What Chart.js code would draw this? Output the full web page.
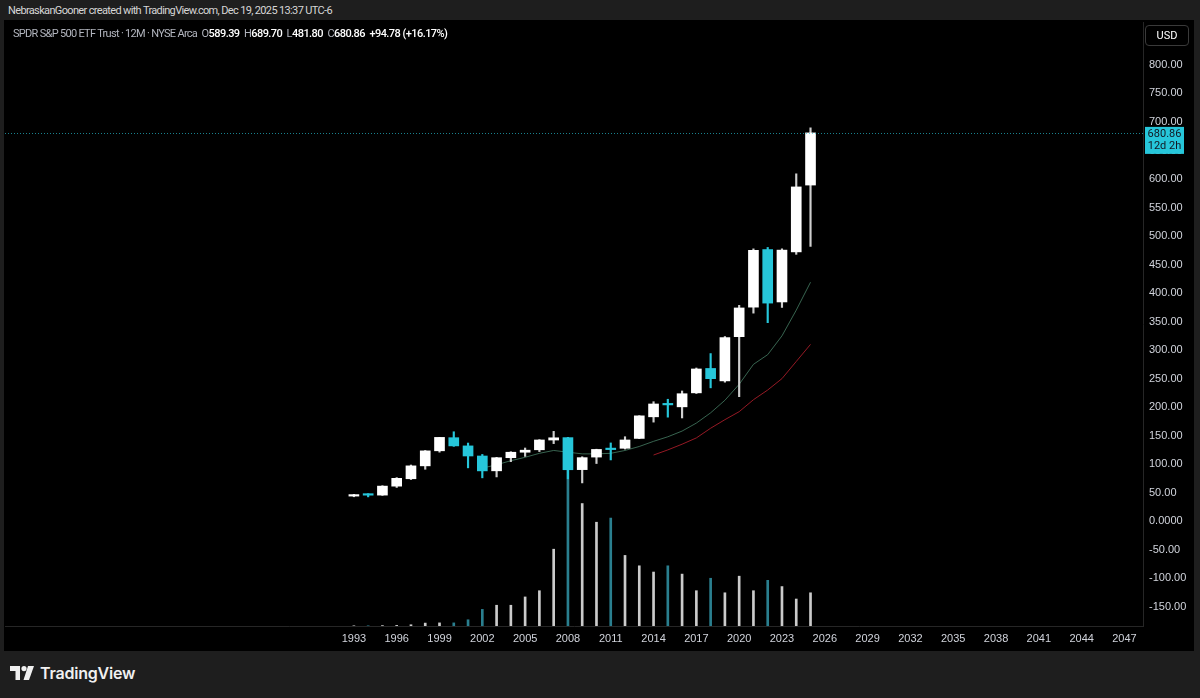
<!DOCTYPE html>
<html lang="en">
<head>
  <meta charset="UTF-8" />
  <title>SPY 12M</title>
  <script src="https://cdn.jsdelivr.net/npm/chart.js"></script>
  <style>
    * { box-sizing: border-box; }
    body {
      margin: 0;
      width: 1200px;
      height: 698px;
      background: #1e1e1e;
      font-family: Roboto, 'Liberation Sans', sans-serif;
      color: #d1d4dc;
      overflow: hidden;
      position: relative;
    }
    .credit {
      position: absolute; left: 8px; top: 4px;
      font-size: 11px; color: #d6d6d6; letter-spacing: -0.65px;
    }
    .panel {
      position: absolute; left: 4px; top: 20px; width: 1190px; height: 631px;
      background: #000;
    }
    #wrap { position: absolute; left: 5px; top: 22px; }
    .legend {
      position: absolute; left: 13px; top: 27px;
      font-size: 11px; color: #b2b5be; letter-spacing: -0.55px;
    }
    .legend .title { letter-spacing: -0.7px; }
    .legend b { font-weight: 500; color: #fff; }
    .usd {
      position: absolute; left: 1145px; top: 25px; width: 44px; height: 21px;
      border: 1px solid #3a3a3a; border-radius: 4px;
      font-size: 11px; color: #fff; text-align: center; line-height: 19px;
    }
    .logo {
      position: absolute; left: 10px; top: 663px;
      display: flex; align-items: center; gap: 6px;
      font-family: Inter, 'Open Sans', sans-serif; font-weight: 600;
      font-size: 16px; color: #f0f0f0; letter-spacing: -0.2px;
    }
  </style>
</head>
<body>
  <div class="credit">NebraskanGooner created with TradingView.com, Dec 19, 2025 13:37 UTC-6</div>
  <div class="panel"></div>
  <div id="wrap"><canvas id="spy" width="1188" height="628"></canvas></div>
  <div class="legend"><span class="title">SPDR S&amp;P 500 ETF Trust · 12M · NYSE Arca</span>&nbsp; O<b>589.39</b>&nbsp; H<b>689.70</b>&nbsp; L<b>481.80</b>&nbsp; C<b>680.86</b>&nbsp; <b>+94.78 (+16.17%)</b></div>
  <div class="usd">USD</div>
  <div class="logo">
    <svg width="24" height="14" viewBox="0 0 24 14">
      <path d="M0 0 H10 V14 H5.5 V5 H0 Z" fill="#f0f0f0"/>
      <circle cx="14" cy="2.6" r="2.6" fill="#f0f0f0"/>
      <path d="M18 0 H24 L19 14 H13.5 Z" fill="#f0f0f0"/>
    </svg>
    <span>TradingView</span>
  </div>

  <script>
    // yearly candles, SPY
    const years  = [1993,1994,1995,1996,1997,1998,1999,2000,2001,2002,2003,2004,2005,2006,2007,2008,2009,2010,2011,2012,2013,2014,2015,2016,2017,2018,2019,2020,2021,2022,2023,2024,2025];
    const opens  = [43.97,46.6,45.7,61.4,74.4,97.0,123.4,146.4,132.0,114.3,88.3,111.3,120.9,125.2,142.3,146.5,90.4,112.4,126.7,127.8,145.1,183.0,206.4,200.5,225.0,267.8,245.98,323.5,375.3,476.3,384.4,472.2,589.39];
    const highs  = [47.1,48.2,62.2,76.4,98.5,124.0,147.0,156.8,137.0,117.0,112.0,121.8,128.3,143.0,157.5,147.0,113.0,126.2,137.2,148.1,185.0,209.5,213.8,228.3,268.6,293.9,323.8,378.5,477.5,479.98,477.6,609.1,689.70];
    const lows   = [42.8,42.6,45.2,59.1,73.0,91.0,121.0,131.2,93.5,76.0,77.6,104.4,113.6,122.0,136.0,74.3,67.1,101.1,107.4,126.4,144.7,173.7,182.4,181.0,223.9,233.8,243.7,218.3,364.8,348.1,374.8,467.9,481.80];
    const closes = [46.59,45.6,61.5,75.1,97.0,123.3,146.9,132.0,114.3,88.2,111.3,120.9,124.5,142.4,146.2,90.2,111.4,125.8,125.5,142.4,184.7,205.5,203.9,223.5,266.9,249.9,321.9,373.9,474.96,382.4,475.3,586.1,680.86];
    // volume, billions of shares
    const volumes = [0.1,0.1,0.2,0.3,0.6,1.4,1.5,1.5,3,8,10,10,14,17,37,75,59,50,52,34,29,26,29,25,17,23,16,24,17,22,19,13,16];

    // moving averages
    const maFastYears = [2002,2003,2004,2005,2006,2007,2008,2009,2010,2011,2012,2013,2014,2015,2016,2017,2018,2019,2020,2021,2022,2023,2024,2025];
    const maFast      = [93,99,106,112,119,124,121,118,118,119,124,131,140,148,158,172,190,212,240,275,292,325,370,419];
    const maSlowYears = [2014,2015,2016,2017,2018,2019,2020,2021,2022,2023,2024,2025];
    const maSlow      = [116,125,135,146,163,178,192,213,230,250,280,310];

    const tickYears  = [1993,1996,1999,2002,2005,2008,2011,2014,2017,2020,2023,2026,2029,2032,2035,2038,2041,2044,2047];
    const priceTicks = [800,750,700,650,600,550,500,450,400,350,300,250,200,150,100,50,0,-50,-100,-150];
    const lastPrice = 680.86;
    const lastLabel = ['680.86', '12d 2h'];

    const UP = '#ffffff', DOWN = '#26c6da';
    const isUp = years.map((y, i) => closes[i] >= opens[i]);

    const priceLine = {
      id: 'priceLine',
      afterDatasetsDraw(chart) {
        const { ctx, chartArea, scales } = chart;
        const py = scales.y.getPixelForValue(lastPrice);
        ctx.save();
        ctx.strokeStyle = 'rgba(38,198,218,0.65)';
        ctx.lineWidth = 1;
        ctx.setLineDash([1, 2]);
        ctx.beginPath();
        ctx.moveTo(chartArea.left, Math.round(py) + 0.5);
        ctx.lineTo(chartArea.right, Math.round(py) + 0.5);
        ctx.stroke();
        ctx.setLineDash([]);
        // price label on the axis
        const x0 = chartArea.right + 2;
        ctx.fillStyle = DOWN;
        ctx.fillRect(x0, py - 6, 39, 27);
        ctx.fillStyle = '#131722';
        ctx.font = '11px Roboto, sans-serif';
        ctx.textAlign = 'center';
        ctx.textBaseline = 'middle';
        ctx.fillText(lastLabel[0], x0 + 19.5, py + 1);
        ctx.fillText(lastLabel[1], x0 + 19.5, py + 13);
        ctx.restore();
      }
    };

    new Chart(document.getElementById('spy'), {
      type: 'bar',
      data: {
        datasets: [
          {
            label: 'Bodies',
            data: years.map((y, i) => ({ x: y, y: [opens[i], closes[i]] })),
            backgroundColor: isUp.map(u => u ? UP : DOWN),
            barThickness: 10,
            minBarLength: 1.5,
            order: 0
          },
          {
            label: 'Wicks',
            data: years.map((y, i) => ({ x: y, y: [lows[i], highs[i]] })),
            backgroundColor: isUp.map(u => u ? '#cfcfcf' : DOWN),
            barThickness: 1.5,
            order: 1
          },
          {
            type: 'line',
            label: 'MA fast',
            data: maFastYears.map((y, i) => ({ x: y, y: maFast[i] })),
            borderColor: 'rgba(70,125,100,0.8)',
            borderWidth: 1,
            pointRadius: 0,
            order: 2
          },
          {
            type: 'line',
            label: 'MA slow',
            data: maSlowYears.map((y, i) => ({ x: y, y: maSlow[i] })),
            borderColor: 'rgba(165,28,40,0.9)',
            borderWidth: 1,
            pointRadius: 0,
            order: 2
          },
          {
            label: 'Volume',
            data: years.map((y, i) => ({ x: y, y: volumes[i] })),
            yAxisID: 'vol',
            backgroundColor: isUp.map(u => u ? 'rgba(225,225,225,0.9)' : '#2a7f8f'),
            barThickness: 2,
            order: 3
          }
        ]
      },
      options: {
        responsive: false,
        animation: false,
        layout: { padding: 0 },
        datasets: { bar: { grouped: false, borderWidth: 0 } },
        plugins: { legend: { display: false }, tooltip: { enabled: false } },
        scales: {
          x: {
            type: 'linear',
            offset: false,
            min: 1968.55,
            max: 2048.3,
            grid: { display: false, drawTicks: false },
            border: { display: true, color: '#262626' },
            ticks: { color: '#d1d4dc', font: { size: 11 }, padding: 6, maxRotation: 0, autoSkip: false, callback: v => String(v) },
            afterBuildTicks: s => { s.ticks = tickYears.map(v => ({ value: v })); },
            afterFit: s => { s.height = 24; s.paddingLeft = 0; s.paddingRight = 0; }
          },
          y: {
            position: 'right',
            min: -183.8,
            max: 875.3,
            grid: { display: false, drawTicks: false },
            border: { display: true, color: '#262626' },
            ticks: { color: '#d1d4dc', font: { size: 11 }, padding: 6, callback: v => v === 0 ? '0.0000' : v.toFixed(2) },
            afterBuildTicks: s => { s.ticks = priceTicks.map(v => ({ value: v })); },
            afterFit: s => { s.width = 50; s.paddingTop = 0; s.paddingBottom = 0; }
          },
          vol: { display: false, min: 0, max: 291 }
        }
      },
      plugins: [priceLine]
    });
  </script>
</body>
</html>
